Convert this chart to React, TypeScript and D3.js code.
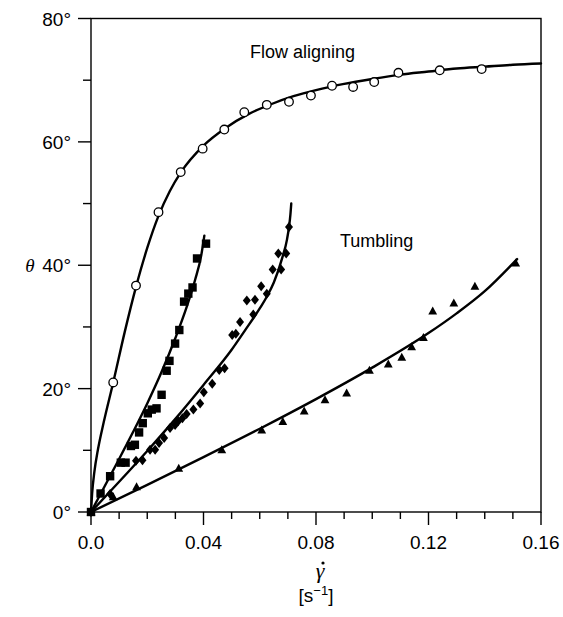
import React from "react";
import * as d3 from "d3";

// ---- data (shear rate [s^-1], angle [deg]) ----
const flowAligningPoints: [number, number][] = [
  [0.0079, 21.0], [0.016, 36.7], [0.024, 48.6], [0.0319, 55.1], [0.0397, 58.9],
  [0.0474, 62.0], [0.0545, 64.8], [0.0625, 66.0], [0.0704, 66.5], [0.0782, 67.5],
  [0.0857, 69.1], [0.0932, 68.9], [0.1007, 69.7], [0.1093, 71.2], [0.124, 71.6],
  [0.1389, 71.8],
];
const flowAligningFit: [number, number][] = [
  [0, 0], [0.0004, 3], [0.0012, 6.5], [0.0025, 10.2], [0.0045, 14.5], [0.0079, 21],
  [0.012, 29.2], [0.016, 36.5], [0.02, 42.8], [0.024, 48.0], [0.028, 52.0], [0.032, 55.1],
  [0.04, 59.4], [0.048, 62.3], [0.056, 64.5], [0.064, 66.1], [0.072, 67.4], [0.08, 68.4],
  [0.09, 69.4], [0.1, 70.2], [0.11, 70.9], [0.12, 71.4], [0.13, 71.9],
  [0.14, 72.2], [0.15, 72.5], [0.16, 72.7],
];
const squarePoints: [number, number][] = [
  [0, 0], [0.0034, 3.0], [0.0068, 5.8], [0.0106, 8.0], [0.0123, 8.0],
  [0.0142, 10.7], [0.0156, 10.9], [0.0171, 12.9], [0.0184, 14.4], [0.0202, 16.0],
  [0.0216, 16.6], [0.0233, 16.8], [0.0251, 19.0], [0.0269, 22.9], [0.0279, 24.5],
  [0.0299, 27.3], [0.0314, 29.5], [0.0331, 34.1], [0.0346, 35.4], [0.0361, 36.4],
  [0.0377, 41.1], [0.0409, 43.5],
];
const squareFit: [number, number][] = [
  [0, 0], [0.005, 4.3], [0.01, 8.6], [0.015, 13.0], [0.02, 17.6], [0.025, 22.6],
  [0.03, 28.2], [0.034, 33.2], [0.037, 37.6], [0.0392, 41.6], [0.0403, 44.8],
];
const diamondPoints: [number, number][] = [
  [0, 0], [0.0068, 2.9], [0.016, 8.3], [0.0183, 8.4], [0.021, 10.1], [0.0228, 10.1],
  [0.0242, 11.2], [0.026, 12.0], [0.0281, 13.6], [0.0299, 14.1], [0.031, 14.7],
  [0.0325, 15.2], [0.034, 15.9], [0.0364, 16.6], [0.0388, 17.6], [0.0401, 19.4],
  [0.0431, 20.8], [0.0456, 23.0], [0.0475, 23.3], [0.0502, 28.7], [0.0515, 28.9],
  [0.053, 30.8], [0.0554, 34.3], [0.0577, 32.0], [0.0583, 34.4], [0.0605, 36.6],
  [0.0625, 35.4], [0.0646, 39.3], [0.0676, 39.3], [0.0666, 41.9], [0.0694, 41.9],
  [0.0704, 46.2],
];
const diamondFit: [number, number][] = [
  [0, 0], [0.01, 4.9], [0.02, 9.9], [0.03, 15.1], [0.04, 20.6], [0.05, 26.3],
  [0.055, 29.6], [0.06, 33.0], [0.0625, 34.9], [0.065, 37.2], [0.068, 41.2],
  [0.0697, 44.2], [0.0704, 46.2], [0.0709, 48.2], [0.0712, 50.0],
];
const trianglePoints: [number, number][] = [
  [0, 0], [0.0079, 2.5], [0.0162, 4.1], [0.0312, 7.1], [0.0465, 10.1], [0.0607, 13.3],
  [0.0682, 14.7], [0.0758, 16.4], [0.0832, 18.2], [0.0909, 19.3], [0.099, 23.0],
  [0.1057, 24.0], [0.1105, 25.1], [0.114, 26.8], [0.1182, 28.3], [0.1215, 32.6],
  [0.129, 33.9], [0.1365, 36.6], [0.151, 40.4],
];
const triangleFit: [number, number][] = [
  [0, 0], [0.02, 4.4], [0.04, 8.9], [0.06, 13.5], [0.08, 18.3], [0.1, 23.4],
  [0.12, 29.0], [0.13, 32.2], [0.14, 35.8], [0.1515, 41.0],
];

const xMajorTicks = [0, 0.04, 0.08, 0.12, 0.16];
const xTickLabels = ["0.0", "0.04", "0.08", "0.12", "0.16"];
const xMinorTicks = [0.01, 0.02, 0.03, 0.05, 0.06, 0.07, 0.09, 0.1, 0.11, 0.13, 0.14, 0.15];
const yMajorTicks = [0, 20, 40, 60, 80];
const yTickLabels = ["0°", "20°", "40°", "60°", "80°"];
const yMinorTicks = [10, 30, 50, 70];

const W = 563;
const H = 617;
const left = 91;
const right = 541;
const top = 18.5;
const bottom = 512;

export default function App() {
  const x = d3.scaleLinear().domain([0, 0.16]).range([left, right]);
  const y = d3.scaleLinear().domain([0, 80]).range([bottom, top]);
  const line = d3
    .line<[number, number]>()
    .x((d) => x(d[0]))
    .y((d) => y(d[1]))
    .curve(d3.curveMonotoneX);

  const sans = "'Liberation Sans', Arial, Helvetica, sans-serif";
  const serif = "'Liberation Serif', 'Times New Roman', serif";

  const diamond = (cx: number, cy: number, r: number) =>
    `M${cx},${cy - r}L${cx + r * 0.8},${cy}L${cx},${cy + r}L${cx - r * 0.8},${cy}Z`;
  const tri = (cx: number, cy: number, s: number) =>
    `M${cx},${cy - s * 0.55}L${cx + s * 0.55},${cy + s * 0.45}L${cx - s * 0.55},${cy + s * 0.45}Z`;

  return (
    <svg
      width={W}
      height={H}
      style={{ position: "absolute", left: 0, top: 0, background: "#fff" }}
    >
      <rect x={0} y={0} width={W} height={H} fill="#fff" />
      {/* frame */}
      <rect
        x={left}
        y={top}
        width={right - left}
        height={bottom - top}
        fill="none"
        stroke="#000"
        strokeWidth={1.4}
      />
      {/* x ticks */}
      {xMajorTicks.map((t, i) => (
        <g key={"xm" + i}>
          <line x1={x(t)} x2={x(t)} y1={bottom} y2={bottom + 13} stroke="#000" strokeWidth={1.4} />
          <text
            x={x(t)}
            y={549}
            textAnchor="middle"
            fontFamily={sans}
            fontSize={19}
            fill="#000"
          >
            {xTickLabels[i]}
          </text>
        </g>
      ))}
      {xMinorTicks.map((t, i) => (
        <line key={"xn" + i} x1={x(t)} x2={x(t)} y1={bottom} y2={bottom + 7} stroke="#000" strokeWidth={1.4} />
      ))}
      {/* y ticks */}
      {yMajorTicks.map((t, i) => (
        <g key={"ym" + i}>
          <line x1={left - 13} x2={left} y1={y(t)} y2={y(t)} stroke="#000" strokeWidth={1.4} />
          <text
            x={71}
            y={y(t) + 7}
            textAnchor="end"
            fontFamily={sans}
            fontSize={19}
            fill="#000"
          >
            {yTickLabels[i]}
          </text>
        </g>
      ))}
      {yMinorTicks.map((t, i) => (
        <line key={"yn" + i} x1={left - 8} x2={left} y1={y(t)} y2={y(t)} stroke="#000" strokeWidth={1.4} />
      ))}

      {/* axis titles */}
      <text x={30} y={272} textAnchor="middle" fontFamily={serif} fontStyle="italic" fontSize={19} fill="#000">
        θ
      </text>
      <text x={320} y={578} textAnchor="middle" fontFamily={serif} fontStyle="italic" fontSize={22} fill="#000">
        γ
      </text>
      <circle cx={323} cy={563} r={1.6} fill="#000" />
      <text x={316} y={602} textAnchor="middle" fontFamily={sans} fontSize={19} fill="#000">
        [s
        <tspan fontSize={13} dy={-7}>−1</tspan>
        <tspan dy={7}>]</tspan>
      </text>

      {/* annotations */}
      <text x={250} y={58} fontFamily={sans} fontSize={18} fill="#000">
        Flow aligning
      </text>
      <text x={340} y={247} fontFamily={sans} fontSize={18} fill="#000">
        Tumbling
      </text>

      {/* fitted curves */}
      <g fill="none" stroke="#000" strokeWidth={2.4} strokeLinecap="round">
        <path d={line(flowAligningFit) || ""} />
        <path d={line(squareFit) || ""} />
        <path d={line(diamondFit) || ""} />
        <path d={line(triangleFit) || ""} />
      </g>

      {/* markers */}
      {flowAligningPoints.map((d, i) => (
        <circle key={"c" + i} cx={x(d[0])} cy={y(d[1])} r={4.3} fill="#fff" stroke="#000" strokeWidth={1.3} />
      ))}
      {squarePoints.map((d, i) => (
        <rect key={"s" + i} x={x(d[0]) - 4.2} y={y(d[1]) - 4.2} width={8.4} height={8.4} fill="#000" />
      ))}
      {diamondPoints.map((d, i) => (
        <path key={"d" + i} d={diamond(x(d[0]), y(d[1]), 5)} fill="#000" />
      ))}
      {trianglePoints.map((d, i) => (
        <path key={"t" + i} d={tri(x(d[0]), y(d[1]), 8)} fill="#000" />
      ))}
    </svg>
  );
}
